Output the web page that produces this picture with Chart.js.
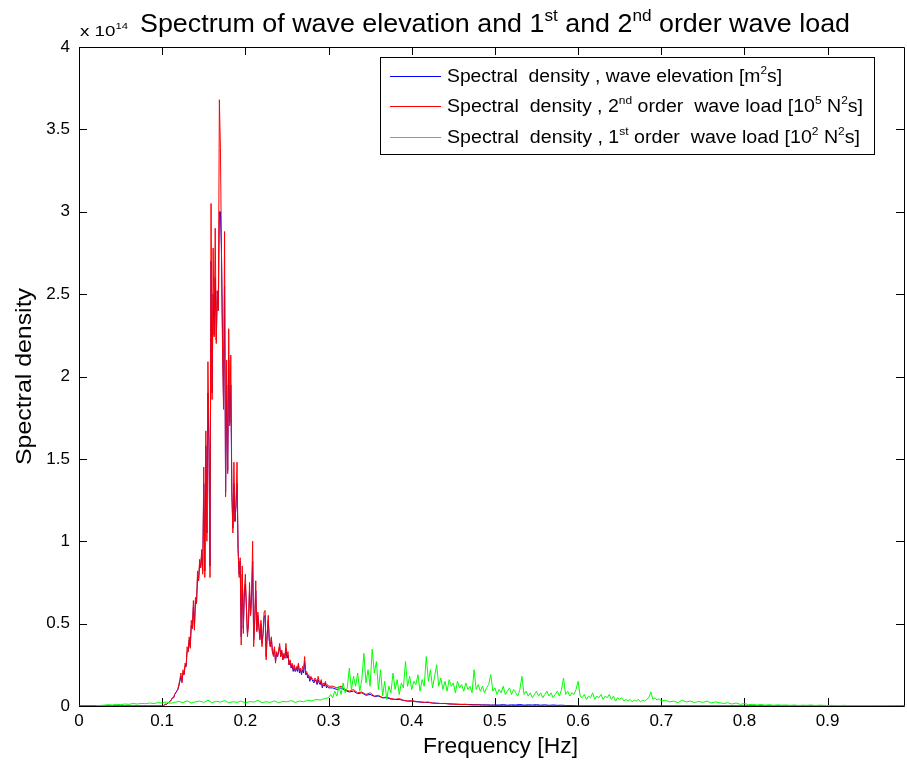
<!DOCTYPE html>
<html>
<head>
<meta charset="utf-8">
<script src="https://cdn.jsdelivr.net/npm/chart.js@4"></script>
<style>
  body { margin: 0; background: #fff; }
  canvas { display: block; }
</style>
</head>
<body>
<canvas id="c" width="907" height="770"></canvas>
<script>
// values are in units of 1e14 (axis shows "x 10^14")
const xTicks = [0, 0.1, 0.2, 0.3, 0.4, 0.5, 0.6, 0.7, 0.8, 0.9];
const yTicks = [0, 0.5, 1, 1.5, 2, 2.5, 3, 3.5, 4];

// dense part of the peak: 0.1 .. 0.3 Hz, every 0.00125 Hz
const peakStart = 0.1, peakStep = 0.00125;
const redPeak = [
  0,0,0.005,0.01,0.01,0.015,0.02,0.025,0.03,0.04,
  0.05,0.05,0.07,0.08,0.09,0.10,0.13,0.16,0.20,0.14,
  0.22,0.19,0.26,0.24,0.36,0.33,0.42,0.35,0.52,0.47,
  0.64,0.46,0.66,0.62,0.82,0.76,0.89,0.84,0.95,0.80,
  1.45,0.78,1.67,1.00,2.09,1.60,0.78,3.05,1.86,2.78,
  2.24,2.90,2.20,2.52,2.40,3.68,3.39,2.77,2.20,1.80,
  2.88,1.27,2.10,1.41,2.29,1.70,2.13,1.29,1.05,1.48,
  1.12,1.22,1.48,0.95,0.78,0.90,0.37,0.85,0.44,0.70,
  0.80,0.60,0.42,0.50,0.75,0.55,0.68,1.00,0.36,0.52,
  0.76,0.45,0.57,0.48,0.40,0.52,0.36,0.44,0.57,0.58,
  0.28,0.44,0.55,0.40,0.36,0.42,0.33,0.30,0.36,0.26,
  0.33,0.30,0.34,0.38,0.30,0.34,0.28,0.32,0.29,0.38,
  0.30,0.33,0.25,0.28,0.24,0.26,0.22,0.25,0.21,0.24,
  0.22,0.26,0.21,0.23,0.20,0.24,0.22,0.30,0.20,0.21,
  0.18,0.19,0.16,0.18,0.17,0.16,0.15,0.17,0.16,0.14,
  0.18,0.15,0.14,0.16,0.12,0.14,0.13,0.15,0.12,0.13,
  0.12
];
const bluePeak = [
  0,0,0.005,0.01,0.01,0.015,0.02,0.025,0.03,0.04,
  0.05,0.05,0.07,0.08,0.09,0.10,0.12,0.15,0.18,0.15,
  0.20,0.19,0.24,0.24,0.33,0.33,0.40,0.36,0.49,0.47,
  0.60,0.48,0.64,0.62,0.78,0.76,0.86,0.84,0.92,0.82,
  1.35,0.82,1.58,1.05,1.90,1.58,0.85,2.70,1.90,2.50,
  2.25,2.60,2.22,2.52,2.40,3.00,3.00,2.77,2.25,1.85,
  2.55,1.30,1.95,1.43,2.10,1.72,1.95,1.30,1.08,1.35,
  1.12,1.22,1.35,0.95,0.80,0.88,0.42,0.80,0.47,0.68,
  0.74,0.60,0.44,0.50,0.70,0.55,0.66,0.88,0.40,0.52,
  0.70,0.46,0.55,0.48,0.41,0.50,0.38,0.44,0.54,0.55,
  0.30,0.43,0.52,0.40,0.36,0.41,0.33,0.31,0.35,0.27,
  0.32,0.30,0.33,0.36,0.30,0.33,0.28,0.31,0.29,0.35,
  0.29,0.31,0.25,0.27,0.23,0.25,0.21,0.23,0.21,0.23,
  0.21,0.25,0.20,0.22,0.19,0.22,0.20,0.27,0.19,0.20,
  0.17,0.18,0.15,0.17,0.16,0.15,0.14,0.16,0.15,0.13,
  0.16,0.14,0.13,0.15,0.11,0.13,0.12,0.14,0.11,0.12,
  0.11
];

// tail: 0.305 .. 0.6 Hz, every 0.005 Hz
const tailStart = 0.305, tailStep = 0.005;
const redTail = [
  0.12,0.11,0.12,0.10,0.09,0.10,0.08,0.085,0.07,0.08,
  0.06,0.065,0.05,0.055,0.045,0.04,0.045,0.035,0.03,0.032,
  0.028,0.025,0.022,0.024,0.018,0.016,0.015,0.016,0.012,0.011,
  0.010,0.009,0.010,0.007,0.006,0.007,0.005,0.005,0.004,0.004,
  0.003,0.004,0.003,0.002,0.003,0.002,0.002,0.002,0.001,0.002,
  0.001,0.001,0.001,0.001,0.001,0,0.001,0,0,0
];
const blueTail = [
  0.11,0.10,0.11,0.095,0.085,0.09,0.075,0.08,0.065,0.07,
  0.058,0.06,0.05,0.05,0.042,0.04,0.04,0.034,0.03,0.03,
  0.026,0.024,0.022,0.022,0.018,0.017,0.015,0.015,0.013,0.012,
  0.011,0.010,0.010,0.009,0.008,0.008,0.007,0.007,0.006,0.006,
  0.006,0.008,0.005,0.007,0.006,0.009,0.005,0.007,0.006,0.008,
  0.005,0.007,0.004,0.006,0.004,0.005,0.003,0.003,0.002,0
];

// 1st order load: three stretches
const greenLowStart = 0.02, greenLowStep = 0.005;
const greenLow = [
  0.000,0.003,0.005,0.008,0.006,0.010,0.008,0.012,0.010,0.015,
  0.012,0.016,0.014,0.018,0.015,0.020,0.018,0.025,0.016,0.022,
  0.028,0.020,0.032,0.018,0.025,0.030,0.022,0.035,0.020,0.028,
  0.024,0.033,0.019,0.026,0.022,0.030,0.018,0.027,0.024,0.034,
  0.020,0.026,0.022,0.031,0.019,0.028,0.025,0.033,0.022,0.030,
  0.026,0.035,0.030,0.040,0.036,0.045
];
const greenMidStart = 0.3, greenMidStep = 0.0025;
const greenMid = [
  0.05,0.07,0.05,0.09,0.06,0.12,0.07,0.14,0.08,0.11,
  0.23,0.10,0.18,0.12,0.20,0.09,0.16,0.32,0.14,0.22,
  0.12,0.345,0.20,0.27,0.10,0.22,0.06,0.15,0.04,0.12,
  0.08,0.20,0.10,0.16,0.07,0.14,0.11,0.27,0.12,0.18,
  0.10,0.15,0.13,0.19,0.09,0.16,0.12,0.30,0.15,0.22,
  0.11,0.18,0.25,0.12,0.17,0.10,0.15,0.09,0.16,0.12,
  0.14,0.08,0.15,0.11,0.13,0.09,0.14,0.10,0.12,0.08,
  0.22,0.10,0.13,0.09,0.12,0.08,0.11,0.13,0.19,0.09,
  0.11,0.07,0.10,0.08,0.12,0.07,0.09,0.11,0.07,0.10,
  0.08,0.06,0.10,0.18,0.07,0.09,0.06,0.08,0.05,0.07,
  0.09,0.06,0.08,0.05,0.07,0.09,0.06,0.08,0.05,0.07,
  0.09,0.06,0.10,0.17,0.07,0.09,0.06,0.08,0.07,0.10,
  0.15,0.06,0.05,0.07,0.04,0.06,0.05,0.08,0.04,0.06,
  0.05,0.07,0.04,0.06,0.05,0.07,0.04,0.06,0.03,0.05,
  0.04,0.05,0.03,0.04,0.03,0.04,0.025,0.035,0.03,0.04,
  0.025,0.035,0.03,0.04,0.05,0.085,0.04,0.05,0.035,0.045,
  0.03
];
const greenHighStart = 0.705, greenHighStep = 0.005;
const greenHigh = [
  0.035,0.025,0.03,0.02,0.035,0.025,0.03,0.02,0.028,0.022,
  0.03,0.018,0.025,0.02,0.015,0.02,0.012,0.018,0.01,0.015,
  0.008,0.01,0.006,0.009,0.005,0.008,0.004,0.007,0.005,0.006,
  0.004,0.006,0.003,0.005,0.004,0.006,0.003,0.005,0.004,0.003,
  0.004,0.002,0.003,0.004,0.002,0.003,0.002,0.003,0.002,0.002,
  0.002,0.001,0.002,0.001,0.001,0.001,0,0
];

const xMax = 0.993;

function pts(start, step, vals) {
  return vals.map((v, i) => ({ x: +(start + i * step).toFixed(5), y: v }));
}

const blueData = [{ x: 0, y: 0 }].concat(pts(peakStart, peakStep, bluePeak), pts(tailStart, tailStep, blueTail), [{ x: xMax, y: 0 }]);
const redData = [{ x: 0, y: 0 }].concat(pts(peakStart, peakStep, redPeak), pts(tailStart, tailStep, redTail), [{ x: xMax, y: 0 }]);
const greenData = pts(greenLowStart, greenLowStep, greenLow).concat(pts(greenMidStart, greenMidStep, greenMid), pts(greenHighStart, greenHighStep, greenHigh));

const FONT = '"Liberation Sans", Arial, sans-serif';

// text with superscript pieces: parts = [[text, isSup], ...], squeezed/stretched to width w
function richWidth(ctx, parts, size) {
  let w = 0;
  parts.forEach(p => {
    ctx.font = (p[1] ? Math.round(size * 0.62) : size) + 'px ' + FONT;
    w += ctx.measureText(p[0]).width;
  });
  return w;
}
function drawRich(ctx, parts, x, y, size, w) {
  const k = w ? w / richWidth(ctx, parts, size) : 1;
  ctx.save();
  ctx.translate(x, y);
  ctx.scale(k, 1);
  ctx.textBaseline = 'alphabetic';
  ctx.textAlign = 'left';
  let cx = 0;
  parts.forEach(p => {
    const s = p[1] ? Math.round(size * 0.62) : size;
    ctx.font = s + 'px ' + FONT;
    ctx.fillText(p[0], cx, p[1] ? -size * 0.45 : 0);
    cx += ctx.measureText(p[0]).width;
  });
  ctx.restore();
}

const legendItems = [
  { color: '#0000ff', w: 335, parts: [['Spectral  density , wave elevation [m'], ['2', 1], ['s]']] },
  { color: '#ff0000', w: 416, parts: [['Spectral  density , 2'], ['nd', 1], [' order  wave load [10'], ['5', 1], [' N'], ['2', 1], ['s]']] },
  { color: '#00ff00', w: 413, parts: [['Spectral  density , 1'], ['st', 1], [' order  wave load [10'], ['2', 1], [' N'], ['2', 1], ['s]']] }
];

const axesBox = {
  id: 'axesBox',
  beforeDatasetsDraw(chart) {
    const { ctx, chartArea: a, scales } = chart;
    ctx.save();
    ctx.strokeStyle = '#000';
    ctx.lineWidth = 1;
    ctx.beginPath();
    ctx.rect(Math.round(a.left) + 0.5, Math.round(a.top) + 0.5, Math.round(a.right - a.left) - 1, Math.round(a.bottom - a.top));
    const tl = 8;
    xTicks.forEach(v => {
      const px = Math.round(scales.x.getPixelForValue(v)) + 0.5;
      ctx.moveTo(px, a.bottom); ctx.lineTo(px, a.bottom - tl);
      ctx.moveTo(px, a.top); ctx.lineTo(px, a.top + tl);
    });
    yTicks.forEach(v => {
      const py = Math.round(scales.y.getPixelForValue(v)) + 0.5;
      ctx.moveTo(a.left, py); ctx.lineTo(a.left + tl, py);
      ctx.moveTo(a.right - 1, py); ctx.lineTo(a.right - 1 - tl, py);
    });
    ctx.stroke();
    ctx.restore();
  },
  afterDraw(chart) {
    const { ctx } = chart;
    ctx.save();
    ctx.fillStyle = '#000';
    // title and exponent
    drawRich(ctx, [['Spectrum of wave elevation and 1'], ['st', 1], [' and 2'], ['nd', 1], [' order wave load']], 140, 32, 25, 710);
    drawRich(ctx, [['x 10'], ['14', 1]], 80, 36, 15, 48);
    // axis titles
    drawRich(ctx, [['Frequency [Hz]']], 423, 753, 22, 155);
    ctx.save();
    ctx.translate(31, 465);
    ctx.rotate(-Math.PI / 2);
    drawRich(ctx, [['Spectral density']], 0, 0, 22, 177);
    ctx.restore();
    // legend
    const lx = 380, ly = 57, lw = 494, lh = 97;
    ctx.fillStyle = '#fff';
    ctx.fillRect(lx, ly, lw, lh);
    ctx.strokeStyle = '#000';
    ctx.lineWidth = 1;
    ctx.strokeRect(lx + 0.5, ly + 0.5, lw, lh);
    const rows = [76, 106, 137];
    legendItems.forEach((it, i) => {
      ctx.fillStyle = it.color;
      ctx.fillRect(390, rows[i], 51, 1);
      ctx.fillStyle = '#000';
      drawRich(ctx, it.parts, 447, rows[i] + 6, 18, it.w);
    });
    ctx.restore();
  }
};

new Chart(document.getElementById('c'), {
  type: 'line',
  data: {
    datasets: [
      { label: 'blue', data: blueData, borderColor: '#0000ff', order: 2 },
      { label: 'red', data: redData, borderColor: '#ff0000', order: 1 },
      { label: 'green', data: greenData, borderColor: '#00ff00', order: 0 }
    ]
  },
  options: {
    responsive: false,
    animation: false,
    events: [],
    elements: { point: { radius: 0 }, line: { borderWidth: 1, tension: 0 } },
    layout: { padding: { top: 47, right: 2, left: 0, bottom: 0 } },
    plugins: { legend: { display: false }, tooltip: { enabled: false }, title: { display: false } },
    scales: {
      x: {
        type: 'linear', min: 0, max: xMax,
        grid: { display: false, drawTicks: false },
        border: { display: false },
        afterBuildTicks(s) { s.ticks = xTicks.map(v => ({ value: v })); },
        afterFit(s) { s.height = 64; },
        ticks: { color: '#000', padding: 5, maxRotation: 0, font: { family: FONT, size: 17 }, callback: v => String(+v.toFixed(1)) }
      },
      y: {
        min: 0, max: 4,
        grid: { display: false, drawTicks: false },
        border: { display: false },
        afterBuildTicks(s) { s.ticks = yTicks.map(v => ({ value: v })); },
        afterFit(s) { s.width = 79; },
        ticks: { color: '#000', padding: 9, font: { family: FONT, size: 17 }, callback: v => String(+v.toFixed(1)) }
      }
    }
  },
  plugins: [axesBox]
});
</script>
</body>
</html>
